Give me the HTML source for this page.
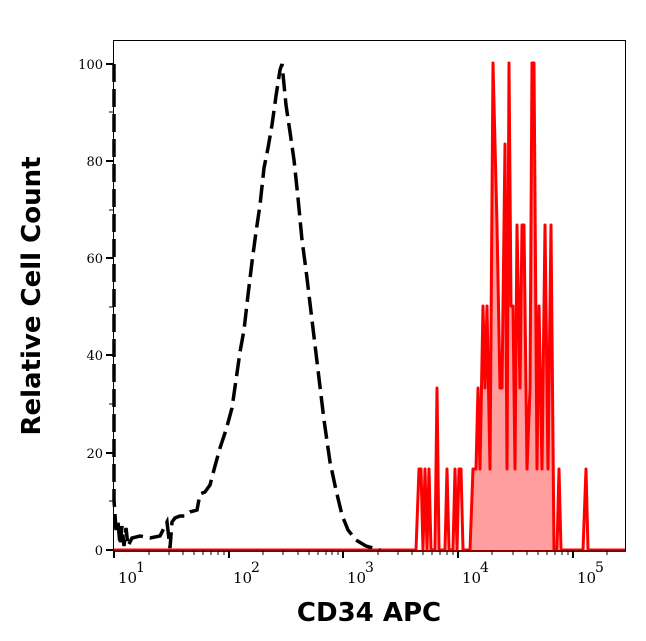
<!DOCTYPE html>
<html><head><meta charset="utf-8"><style>
html,body{margin:0;padding:0;background:#fff;}
svg{display:block;}
</style></head><body>
<svg width="646" height="641" viewBox="0 0 646 641" xmlns="http://www.w3.org/2000/svg">
<rect x="0" y="0" width="646" height="641" fill="#fff"/>
<polygon fill="#ff9e9e" points="470,550 473,469 476,469 478,388 480,469 483,306 485,388 487,306 490,469 493,63 497,225 500,388 502,388 505,144 507,469 509,63 511,306 513,306 515,469 517,225 520,388 522,225 524,225 527,469 530,388 532,63 534,63 537,469 539,306 542,469 545,225 548,469 551,225 554,550"/>
<polyline fill="none" stroke="#ff0000" stroke-width="3" stroke-linejoin="round" points="113,550 416,550 419,469 421,469 423,550 425,469 427,550 429,469 431,550 435,550 437,388 439,550 445,550 447,469 449,550 453,550 455,469 457,550 459,469 461,469 463,550 470,550 473,469 476,469 478,388 480,469 483,306 485,388 487,306 490,469 493,63 497,225 500,388 502,388 505,144 507,469 509,63 511,306 513,306 515,469 517,225 520,388 522,225 524,225 527,469 530,388 532,63 534,63 537,469 539,306 542,469 545,225 548,469 551,225 554,550 557,550 559,469 561,550 583,550 586,469 588,550 626,550"/>
<polyline fill="none" stroke="#000" stroke-width="3.5" stroke-dasharray="18,7" points="114,64 114,500 116,530 118,522 120,545 122,526 124,546 126,528 128,546 132,538 140,536 150,538 160,536 167,522 170,548 172,522 175,518 180,516 185,516 190,512 197,510 200,494 205,492 210,485 215,466 220,448 226,430 232,408 236,380 240,352 244,330 248,295 252,262 256,232 260,205 264,168 268,148 272,125 276,96 280,70 282,64 286,105 290,132 294,160 298,198 302,240 306,270 312,320 318,370 324,420 330,462 336,490 342,515 348,530 356,540 366,546 380,550"/>
<rect x="113.5" y="40.5" width="512" height="510" fill="none" stroke="#000" stroke-width="1"/>
<line x1="113" y1="551" x2="626" y2="551" stroke="#8b0000" stroke-width="2"/>
<g stroke="#000" stroke-width="2">
<line x1="106" y1="550" x2="113" y2="550"/><line x1="106" y1="453" x2="113" y2="453"/><line x1="106" y1="355" x2="113" y2="355"/><line x1="106" y1="258" x2="113" y2="258"/><line x1="106" y1="161" x2="113" y2="161"/><line x1="106" y1="64" x2="113" y2="64"/>
</g>
<g stroke="#000" stroke-width="1">
<line x1="109" y1="501" x2="113" y2="501"/><line x1="109" y1="404" x2="113" y2="404"/><line x1="109" y1="307" x2="113" y2="307"/><line x1="109" y1="210" x2="113" y2="210"/><line x1="109" y1="112" x2="113" y2="112"/>
</g>
<g font-family="DejaVu Serif, serif" font-size="13" text-anchor="end" fill="#000">
<text x="103" y="555">0</text><text x="103" y="458">20</text><text x="103" y="360">40</text><text x="103" y="263">60</text><text x="103" y="166">80</text><text x="103" y="69">100</text>
</g>
<g stroke="#000" stroke-width="2">
<line x1="114" y1="551" x2="114" y2="558"/><line x1="229" y1="551" x2="229" y2="558"/><line x1="343" y1="551" x2="343" y2="558"/><line x1="458" y1="551" x2="458" y2="558"/><line x1="573" y1="551" x2="573" y2="558"/>
</g>
<g stroke="#000" stroke-width="1">
<line x1="149" y1="551" x2="149" y2="555"/><line x1="169" y1="551" x2="169" y2="555"/><line x1="183" y1="551" x2="183" y2="555"/><line x1="194" y1="551" x2="194" y2="555"/><line x1="203" y1="551" x2="203" y2="555"/><line x1="211" y1="551" x2="211" y2="555"/><line x1="218" y1="551" x2="218" y2="555"/><line x1="224" y1="551" x2="224" y2="555"/>
<line x1="263" y1="551" x2="263" y2="555"/><line x1="283" y1="551" x2="283" y2="555"/><line x1="298" y1="551" x2="298" y2="555"/><line x1="309" y1="551" x2="309" y2="555"/><line x1="318" y1="551" x2="318" y2="555"/><line x1="326" y1="551" x2="326" y2="555"/><line x1="332" y1="551" x2="332" y2="555"/><line x1="338" y1="551" x2="338" y2="555"/>
<line x1="378" y1="551" x2="378" y2="555"/><line x1="398" y1="551" x2="398" y2="555"/><line x1="412" y1="551" x2="412" y2="555"/><line x1="423" y1="551" x2="423" y2="555"/><line x1="432" y1="551" x2="432" y2="555"/><line x1="440" y1="551" x2="440" y2="555"/><line x1="447" y1="551" x2="447" y2="555"/><line x1="453" y1="551" x2="453" y2="555"/>
<line x1="492" y1="551" x2="492" y2="555"/><line x1="513" y1="551" x2="513" y2="555"/><line x1="527" y1="551" x2="527" y2="555"/><line x1="538" y1="551" x2="538" y2="555"/><line x1="547" y1="551" x2="547" y2="555"/><line x1="555" y1="551" x2="555" y2="555"/><line x1="562" y1="551" x2="562" y2="555"/><line x1="568" y1="551" x2="568" y2="555"/>
<line x1="607" y1="551" x2="607" y2="555"/>
</g>
<g font-family="DejaVu Serif, serif" font-size="15" fill="#000">
<text x="118" y="583">10</text><text x="136" y="572" font-size="14">1</text>
<text x="233" y="583">10</text><text x="251" y="572" font-size="14">2</text>
<text x="347" y="583">10</text><text x="365" y="572" font-size="14">3</text>
<text x="462" y="583">10</text><text x="480" y="572" font-size="14">4</text>
<text x="577" y="583">10</text><text x="595" y="572" font-size="14">5</text>
</g>
<text x="369" y="621" text-anchor="middle" font-family="DejaVu Sans, sans-serif" font-weight="bold" font-size="26" fill="#000">CD34 APC</text>
<text transform="translate(40,296) rotate(-90)" text-anchor="middle" font-family="DejaVu Sans, sans-serif" font-weight="bold" font-size="26" fill="#000">Relative Cell Count</text>
</svg>
</body></html>
